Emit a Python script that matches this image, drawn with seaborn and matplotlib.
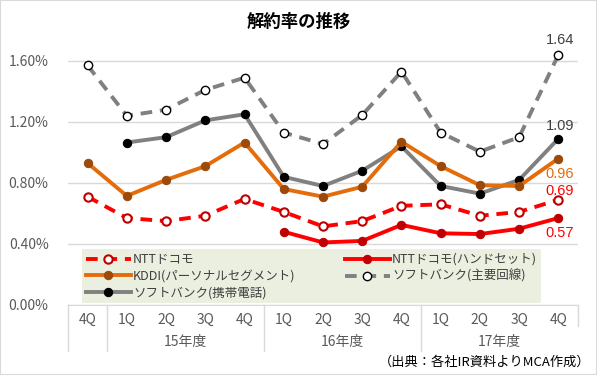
import matplotlib
matplotlib.use("Agg")
import matplotlib.pyplot as plt
import matplotlib.transforms as mtransforms
from matplotlib.patches import Rectangle
import numpy as np
import pandas as pd
import seaborn as sns

# Data (解約率, %)
quarters = ['4Q', '1Q', '2Q', '3Q', '4Q', '1Q', '2Q', '3Q', '4Q', '1Q', '2Q', '3Q', '4Q']
years = ['15年度', '16年度', '17年度']
docomo = [0.71, 0.57, 0.55, 0.585, 0.695, 0.61, 0.515, 0.55, 0.65, 0.66, 0.585, 0.61, 0.69]
docomo_hs = [np.nan, np.nan, np.nan, np.nan, np.nan, 0.48, 0.41, 0.42, 0.525, 0.47, 0.465, 0.50, 0.57]
kddi = [0.93, 0.715, 0.82, 0.91, 1.065, 0.76, 0.71, 0.775, 1.07, 0.91, 0.785, 0.78, 0.96]
sb_main = [1.57, 1.24, 1.28, 1.41, 1.49, 1.13, 1.055, 1.245, 1.53, 1.13, 1.005, 1.10, 1.64]
sb_hs = [np.nan, 1.065, 1.10, 1.21, 1.25, 0.84, 0.78, 0.88, 1.04, 0.78, 0.73, 0.82, 1.09]

plt.rcParams['font.family'] = ['Noto Sans CJK JP', 'DejaVu Sans']

df = pd.DataFrame({'pos': np.arange(len(quarters)), 'docomo': docomo, 'docomo_hs': docomo_hs,
                   'kddi': kddi, 'sb_main': sb_main, 'sb_hs': sb_hs})

fig = plt.figure(figsize=(5.97, 3.75), dpi=100)
ax = fig.add_axes([68 / 597, 1 - 305 / 375, 510 / 597, 267 / 375])

common = dict(ax=ax, estimator=None, linewidth=2.8, markersize=6, legend=False)
sns.lineplot(data=df, x='pos', y='sb_main', color='#808080', linestyle=(0, (3, 2)), marker='o',
             markerfacecolor='white', markeredgecolor='black', markeredgewidth=1, **common)
sns.lineplot(data=df, x='pos', y='sb_hs', color='#808080', marker='o',
             markerfacecolor='black', markeredgecolor='black', **common)
sns.lineplot(data=df, x='pos', y='kddi', color='#E46C0A', marker='o',
             markerfacecolor='#9C4A0A', markeredgecolor='#9C4A0A', **common)
sns.lineplot(data=df, x='pos', y='docomo', color='#FF0000', linestyle=(0, (3, 2)), marker='o',
             markerfacecolor='white', markeredgecolor='#C00000', markeredgewidth=1.5, **common)
sns.lineplot(data=df, x='pos', y='docomo_hs', color='#FF0000', marker='o',
             markerfacecolor='#C00000', markeredgecolor='#C00000', **common)

lines = ax.get_lines()
labels = ['ソフトバンク(主要回線)', 'ソフトバンク(携帯電話)', 'KDDI(パーソナルセグメント)',
          'NTTドコモ', 'NTTドコモ(ハンドセット)']
order = [3, 2, 1, 4, 0]
leg = ax.legend([lines[i] for i in order], [labels[i] for i in order], ncol=2,
                loc='lower left', bbox_to_anchor=(0.027, 0.007, 0.9, 0.205), mode='expand',
                frameon=True, fancybox=False, facecolor='#EBEFDF', edgecolor='none', framealpha=1,
                fontsize=9, handlelength=3.6, labelspacing=0.3, borderpad=0.3,
                handletextpad=0.2, borderaxespad=0)
for t in leg.get_texts():
    t.set_color('#404040')

# end labels (offsets in points)
last = len(quarters) - 1
ends = [(sb_main[-1], '#404040', 10.8), (sb_hs[-1], '#404040', 9.4), (kddi[-1], '#E46C0A', -11.2),
        (docomo[-1], '#FF0000', 6.4), (docomo_hs[-1], '#FF0000', -10.8)]
for val, col, dy in ends:
    ax.annotate('%.2f' % val, (last, val), xytext=(1, dy), textcoords='offset points',
                ha='center', va='center', fontsize=10.5, color=col, family='Liberation Sans')

ax.set_xlim(-0.5, len(quarters) - 0.5)
ax.set_ylim(0, 1.75)
ax.set_yticks([0, 0.4, 0.8, 1.2, 1.6])
ax.set_yticklabels(['%.2f%%' % v for v in [0, 0.4, 0.8, 1.2, 1.6]])
ax.set_xticks(df['pos'])
ax.set_xticklabels(quarters)
ax.tick_params(axis='both', length=0, labelsize=10, labelcolor='#595959')
ax.tick_params(axis='y', pad=14)
ax.tick_params(axis='x', pad=6)
ax.grid(axis='y', color='#D9D9D9', linewidth=1)
ax.set_axisbelow(True)
ax.set_xlabel('')
ax.set_ylabel('')
for s in ['top', 'right', 'left']:
    ax.spines[s].set_visible(False)
ax.spines['bottom'].set_color('#D9D9D9')

# multi-level category axis
trans = mtransforms.blended_transform_factory(ax.transData, ax.transAxes)
for xb in [-0.5, 0.5, 4.5, 8.5]:
    ax.plot([xb, xb], [0, -0.172], transform=trans, color='#D9D9D9', linewidth=1, clip_on=False)
ax.plot([12.5, 12.5], [0, -0.08], transform=trans, color='#D9D9D9', linewidth=1, clip_on=False)
for i, yr in enumerate(years):
    ax.text(2.5 + 4 * i, -0.14, yr, transform=trans, ha='center', va='center',
            fontsize=10, color='#595959')

fig.text(0.5, 1 - 22 / 375, '解約率の推移', ha='center', va='center', fontsize=12.5,
         fontweight='bold', color='black')
fig.text(590 / 597, 1 - 362 / 375, '（出典：各社IR資料よりMCA作成）', ha='right', va='center',
         fontsize=9.5, color='black')
fig.patches.append(Rectangle((0, 0), 1, 1, transform=fig.transFigure, fill=False,
                             edgecolor='#D9D9D9', linewidth=1.5))

fig.savefig('out.png', dpi=100)
